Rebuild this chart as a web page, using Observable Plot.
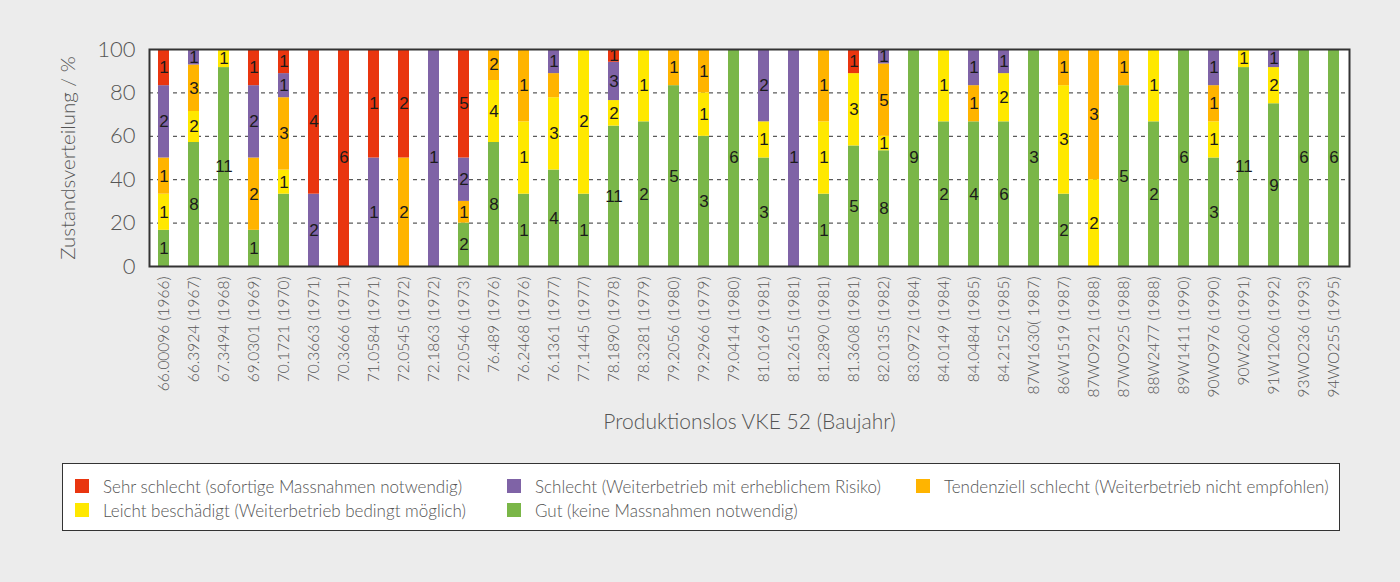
<!DOCTYPE html>
<html><head><meta charset="utf-8">
<script src="https://cdn.jsdelivr.net/npm/d3@7"></script>
<script src="https://cdn.jsdelivr.net/npm/@observablehq/plot@0.6"></script>
<style>
body{margin:0;background:#ececec;font-family:Lato,"Open Sans",sans-serif;}
#chart svg{display:block;}
#legend{position:relative;margin-left:62px;margin-top:17px;width:1276px;height:66px;background:#fff;border:1.5px solid #333;box-sizing:content-box;}
.li{position:absolute;display:flex;align-items:center;font-size:17px;color:#555;font-weight:300;white-space:nowrap;height:20px;}
.sw{display:inline-block;width:14px;height:14px;margin-right:14px;}
</style></head>
<body><div id="chart"></div><div id="legend"></div>
<script>
const lots = ["66.00096 (1966)","66.3924 (1967)","67.3494 (1968)","69.0301 (1969)","70.1721 (1970)","70.3663 (1971)","70.3666 (1971)","71.0584 (1971)","72.0545 (1972)","72.1863 (1972)","72.0546 (1973)","76.489 (1976)","76.2468 (1976)","76.1361 (1977)","77.1445 (1977)","78.1890 (1978)","78.3281 (1979)","79.2056 (1980)","79.2966 (1979)","79.0414 (1980)","81.0169 (1981)","81.2615 (1981)","81.2890 (1981)","81.3608 (1981)","82.0135 (1982)","83.0972 (1984)","84.0149 (1984)","84.0484 (1985)","84.2152 (1985)","87W1630( 1987)","86W1519 (1987)","87WO921 (1988)","87WO925 (1988)","88W2477 (1988)","89W1411 (1990)","90WO976 (1990)","90W260 (1991)","91W1206 (1992)","93WO236 (1993)","94WO255 (1995)"];
const categories = ["Gut (keine Massnahmen notwendig)","Leicht beschädigt (Weiterbetrieb bedingt möglich)","Tendenziell schlecht (Weiterbetrieb nicht empfohlen)","Schlecht (Weiterbetrieb mit erheblichem Risiko)","Sehr schlecht (sofortige Massnahmen notwendig)"];
const colors = ["#7ab648","#ffe800","#ffb400","#7f63a6","#e9350f"];
const gut      = [1,8,11,1,3,0,0,0,0,0,2,8,1,4,1,11,2,5,3,6,3,0,1,5,8,9,2,4,6,3,2,0,5,2,6,3,11,9,6,6];
const leicht   = [1,2,1,0,1,0,0,0,0,0,0,4,1,3,2,2,1,0,1,0,1,0,1,3,1,0,1,0,2,0,3,2,0,1,0,1,1,2,0,0];
const tendenz  = [1,3,0,2,3,0,0,0,2,0,1,2,1,1,0,0,0,1,1,0,0,0,1,0,5,0,0,1,0,0,1,3,1,0,0,1,0,0,0,0];
const schlecht = [2,1,0,2,1,2,0,1,0,1,2,0,0,1,0,3,0,0,0,0,2,1,0,0,1,0,0,1,1,0,0,0,0,0,0,1,0,1,0,0];
const sehr     = [1,0,0,1,1,4,6,1,2,0,5,0,0,0,0,1,0,0,0,0,0,0,0,1,0,0,0,0,0,0,0,0,0,0,0,0,0,0,0,0];
// segments whose count is not printed in the original
const unlabeled = [[4,0],[13,2]];
const yTicks = [0,0.2,0.4,0.6,0.8,1];
const gridTicks = [0.2,0.4,0.6,0.8];

const series = [gut, leicht, tendenz, schlecht, sehr];
const data = [];
lots.forEach((lot,i)=>series.forEach((s,k)=>{
  if (s[i] > 0) data.push({lot, cat: categories[k], count: s[i],
    hide: unlabeled.some(([a,b])=>a===i&&b===k)});
}));

const stackOpts = {x:"lot", y:"count", z:"cat", order: categories, offset:"normalize"};
const chartEl = Plot.plot({
  width:1400, height:446,
  marginLeft:149, marginRight:51, marginTop:49, marginBottom:180,
  style:{background:"transparent", fontFamily:"Lato, 'Open Sans', sans-serif"},
  x:{domain:lots, paddingInner:0.62, paddingOuter:0.31},
  y:{domain:[0,1]},
  color:{domain:categories, range:colors},
  marks:[
    Plot.frame({fill:"white", stroke:null}),
    Plot.ruleY(gridTicks, {stroke:"#333", strokeDasharray:"4,4", strokeWidth:1}),
    Plot.barY(data, Plot.stackY({...stackOpts, fill:"cat"})),
    Plot.text(data, Plot.stackY({...stackOpts, text:d=>d.hide?"":String(d.count), fill:"#1a1a1a", fontSize:17, fontFamily:"'Liberation Sans', Arial, sans-serif"})),
    Plot.frame({stroke:"#333", strokeWidth:2}),
    Plot.axisY(yTicks, {tickSize:0, tickPadding:14, fontSize:22, fill:"#555", fontWeight:300, tickFormat:d=>Math.round(d*100), label:null}),
    Plot.axisX({tickSize:0, tickPadding:10, tickRotate:-90, fontSize:15.5, fill:"#555", fontWeight:300, label:null}),
    Plot.text(["Zustandsverteilung / %"], {frameAnchor:"left", textAnchor:"middle", dx:-81, rotate:-90, fontSize:20.5, fill:"#555", fontWeight:300}),
    Plot.text(["Produktionslos VKE 52 (Baujahr)"], {frameAnchor:"bottom", dy:162, fontSize:21, fill:"#555", fontWeight:300})
  ]
});
document.getElementById("chart").appendChild(chartEl);

const legendItems = [
  {k:4, x:12, y:12}, {k:3, x:444, y:12}, {k:2, x:853, y:12},
  {k:1, x:12, y:36}, {k:0, x:444, y:36}
];
const lg = document.getElementById("legend");
for (const it of legendItems) {
  const d = document.createElement("div");
  d.className = "li";
  d.style.left = it.x + "px";
  d.style.top = it.y + "px";
  const sw = document.createElement("span");
  sw.className = "sw";
  sw.style.background = colors[it.k];
  const tx = document.createElement("span");
  tx.textContent = categories[it.k];
  d.appendChild(sw); d.appendChild(tx);
  lg.appendChild(d);
}
</script></body></html>
